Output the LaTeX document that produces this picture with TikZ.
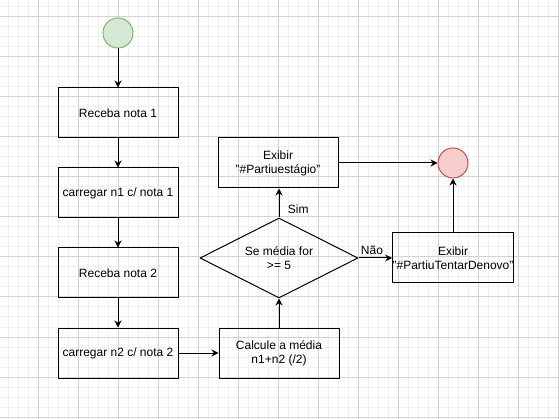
\documentclass[tikz,border=0pt]{standalone}
\usepackage{fontspec}
\setmainfont{Liberation Sans}
\usetikzlibrary{shapes.geometric,arrows.meta}
\definecolor{iniciofill}{HTML}{D5E8D4}
\definecolor{iniciodraw}{HTML}{82B366}
\definecolor{fimfill}{HTML}{F8CECC}
\definecolor{fimdraw}{HTML}{B85450}
\begin{document}
\begin{tikzpicture}[x=1pt,y=-1pt,>={Stealth[length=7pt,width=7pt]},line join=round,font=\fontsize{12}{14}\selectfont,
	caixa/.style={draw,line width=1pt,minimum width=120pt,minimum height=50pt,align=center,inner sep=0pt},
	losango/.style={draw,line width=1pt,diamond,aspect=2,minimum width=158pt,minimum height=80pt,align=center,inner sep=0pt},
	inicio/.style={circle,draw=iniciodraw,fill=iniciofill,line width=1pt,minimum size=30pt,inner sep=0pt},
	fim/.style={circle,draw=fimdraw,fill=fimfill,line width=1pt,minimum size=30pt,inner sep=0pt},
	seta/.style={->,line width=1pt}]
	\useasboundingbox (0,0) rectangle (559,419);
	\fill [white] (0,0) rectangle (559,419);
	% grade
	\foreach \i in {8,18,...,558} \draw [gray!12,line width=1pt] (\i,0)--(\i,419);
	\foreach \j in {7,17,...,417} \draw [gray!12,line width=1pt] (0,\j)--(559,\j);
	\foreach \i in {38,78,...,558} \draw [gray!35,line width=1pt] (\i,0)--(\i,419);
	\foreach \j in {17,57,...,417} \draw [gray!35,line width=1pt] (0,\j)--(559,\j);
	% fluxo
	\node [inicio] (ini) at (118,33) {};
	\node [caixa] (nota1) at (118,113) {Receba nota 1};
	\node [caixa] (n1) at (118,193) {carregar n1 c/ nota 1};
	\node [caixa] (nota2) at (118,273) {Receba nota 2};
	\node [caixa] (n2) at (118,353) {carregar n2 c/ nota 2};
	\node [caixa] (media) at (279,353) {Calcule a média\\n1+n2 (/2)};
	\node [losango] (teste) at (279,258) {Se média for\\>= 5};
	\node [caixa] (estagio) at (278,163) {Exibir\\"\#Partiuestágio"};
	\node [caixa] (denovo) at (453,258) {Exibir\\"\#PartiuTentarDenovo"};
	\node [fim] (fim) at (453,163) {};
	\draw [seta] (ini)--(nota1);
	\draw [seta] (nota1)--(n1);
	\draw [seta] (n1)--(nota2);
	\draw [seta] (nota2)--(n2);
	\draw [seta] (n2)--(media);
	\draw [seta] (media)--(teste);
	\draw [seta] (teste.north)--node [pos=0.27,anchor=west,xshift=5pt] {Sim} (estagio.south -| teste.north);
	\draw [seta] (teste.east)--node [pos=0.4,above] {Não} (denovo.west);
	\draw [seta] (estagio.east)--(fim.west);
	\draw [seta] (denovo)--(fim);
\end{tikzpicture}
\end{document}
